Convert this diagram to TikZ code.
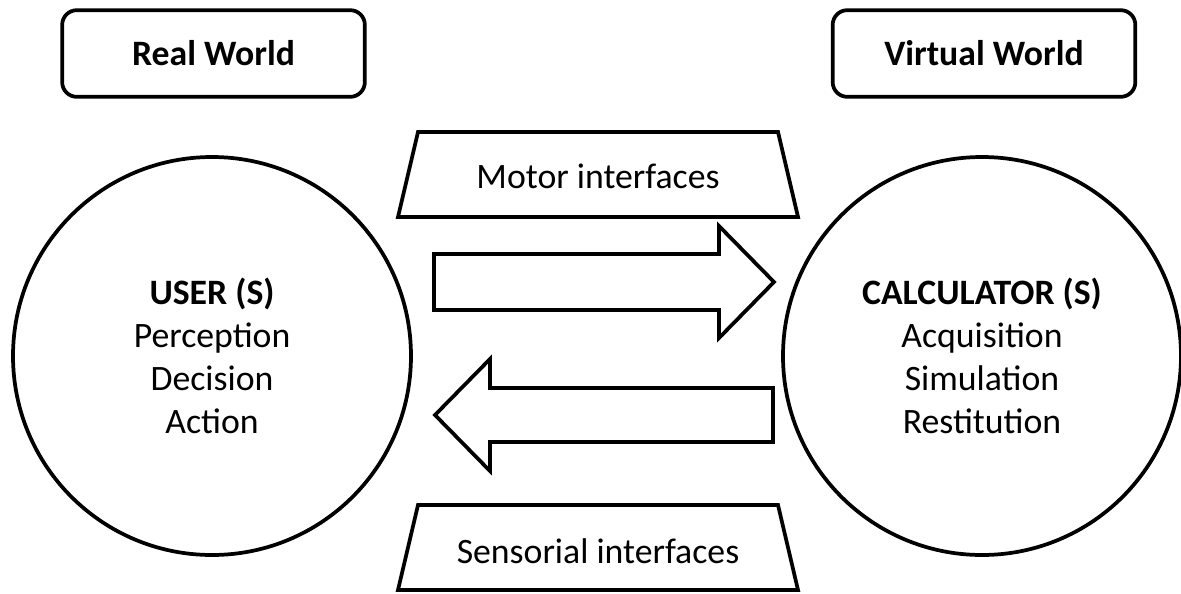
\documentclass[tikz,border=0pt]{standalone}
\usepackage{fontspec}
\setmainfont{Carlito}

\newcommand{\diagfont}{\fontsize{26.8pt}{32.25pt}\selectfont}

\tikzset{
	world/.style={draw, line width=2.8pt, rounded corners=11pt, minimum width=227pt, minimum height=65pt, inner sep=0pt, font=\diagfont\bfseries},
	actor/.style={draw, circle, line width=2.8pt, minimum size=298.5pt, inner sep=0pt, align=center},
	iface/.style={draw, line width=2.8pt, line join=miter},
	flow/.style={draw, line width=2.8pt, line join=miter}
}

\begin{document}
\begin{tikzpicture}[x=0.75pt, y=-0.75pt, font=\diagfont]
	\useasboundingbox (0,0) rectangle (1181,593);

	\node[world]	(real)		at (213.5,53.5)	{Real World};
	\node[world]	(virtual)	at (984,53.5)	{Virtual World};

	\node[actor]	(user)		at (212,356)	{\textbf{USER (S)}\\Perception\\Decision\\Action};
	\node[actor]	(calc)		at (982,356)	{\textbf{CALCULATOR (S)}\\Acquisition\\Simulation\\Restitution};

	% interface trapezia
	\draw[iface] (418,132) -- (778,132) -- (798,217) -- (398,217) -- cycle;
	\draw[iface] (418,505) -- (778,505) -- (798,590) -- (398,590) -- cycle;
	\node	(motor)		at (598,176)	{Motor interfaces};
	\node	(sensor)	at (598,551)	{Sensorial interfaces};

	% block arrows between the two worlds
	\draw[flow] (434,254) -- (719,254) -- (719,226) -- (774,282) -- (719,338) -- (719,310) -- (434,310) -- cycle;
	\draw[flow] (773,388) -- (490,388) -- (490,359) -- (435,415) -- (490,471) -- (490,442) -- (773,442) -- cycle;
\end{tikzpicture}
\end{document}
